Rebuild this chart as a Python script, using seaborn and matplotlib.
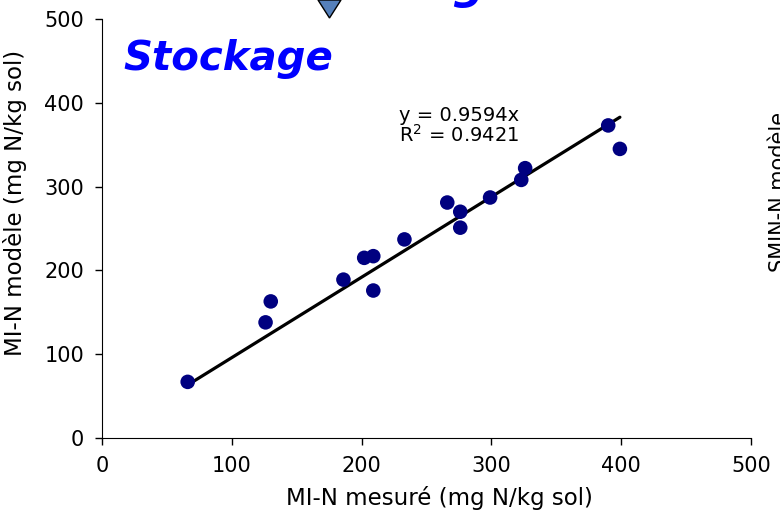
import numpy as np
import pandas as pd
import seaborn as sns
from matplotlib import pyplot as plt
from matplotlib.patches import Polygon

# valeurs
mesure = [66, 126, 130, 186, 202, 209, 209, 233, 266, 276, 276, 299, 323, 326, 390, 399]
modele = [67, 138, 163, 189, 215, 217, 176, 237, 281, 270, 251, 287, 308, 322, 373, 345]
pente = 0.9594
r2 = 0.9421
ticks = [0, 100, 200, 300, 400, 500]

df = pd.DataFrame({'mesure': mesure, 'modele': modele})
fit = pd.DataFrame({'x': [min(mesure), max(mesure)]})
fit['y'] = pente * fit['x']

sns.set_style("ticks")
plt.rcParams['font.family'] = ['DejaVu Sans']
plt.rcParams['text.color'] = 'black'
plt.rcParams['axes.labelcolor'] = 'black'
plt.rcParams['xtick.color'] = 'black'
plt.rcParams['ytick.color'] = 'black'

fig = plt.figure(figsize=(7.8, 5.12), dpi=100)
ax = fig.add_axes([0.1308, 0.1445, 0.832, 0.8184])

sns.lineplot(data=fit, x='x', y='y', color='black', linewidth=2.3, ax=ax)
sns.scatterplot(data=df, x='mesure', y='modele', color='#000080', s=110,
                edgecolor='none', ax=ax, zorder=3)

ax.set_xlim(0, 500)
ax.set_ylim(0, 500)
ax.set_xticks(ticks)
ax.set_yticks(ticks)
ax.tick_params(labelsize=15, length=5, width=1, pad=8)
ax.set_xlabel('MI-N mesuré (mg N/kg sol)', fontsize=16.5)
ax.set_ylabel('MI-N modèle (mg N/kg sol)', fontsize=16.5)
ax.yaxis.set_label_coords(-0.115, 0.56)
ax.xaxis.set_label_coords(0.52, -0.115)
sns.despine(ax=ax)
for s in ['left', 'bottom']:
    ax.spines[s].set_color('black')

ax.text(229, 396, 'y = %.4fx\nR$^2$ = %.4f' % (pente, r2), fontsize=14,
        linespacing=0.95, va='top', ha='left')

ax.text(0.033, 0.905, 'Stockage', transform=ax.transAxes, color='#0000FF',
        fontsize=29, fontweight='bold', fontstyle='italic', va='center')

# fragments de la diapositive autour du graphique
tri = Polygon([[318 / 780, 1.0], [341 / 780, 1.0], [329.5 / 780, 1 - 18 / 512]],
              closed=True, transform=fig.transFigure, facecolor='#5580BB',
              edgecolor='black', linewidth=1)
fig.patches.append(tri)
fig.text(452 / 780, 1 + 1 / 512, 'g', color='#0000FF', fontsize=32,
         fontweight='bold', fontstyle='italic', va='baseline')
fig.text(769 / 780, 1 - 192 / 512, 'SMIN-N modèle', rotation=90, fontsize=15,
         ha='left', va='center')

fig.savefig('out.png', dpi=100)
